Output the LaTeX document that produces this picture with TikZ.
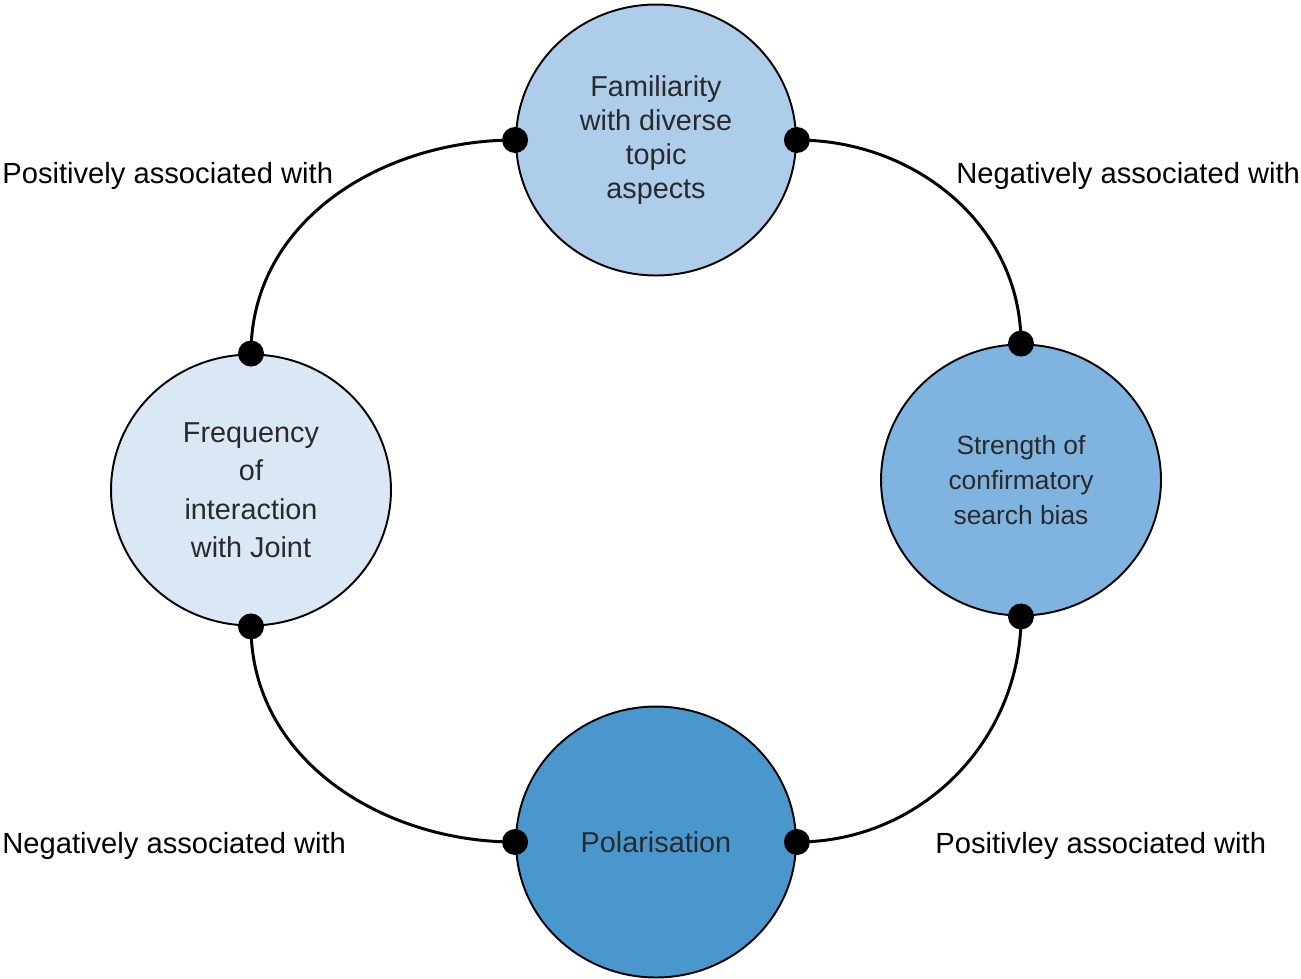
\documentclass[tikz,border=0pt]{standalone}
\usepackage{fontspec}
\setmainfont{Liberation Sans}
\usetikzlibrary{positioning,shapes.geometric}
\definecolor{famfill}{HTML}{ADCDEB}
\definecolor{conffill}{HTML}{7FB4E0}
\definecolor{freqfill}{HTML}{DAE8F6}
\definecolor{polfill}{HTML}{4A97CE}
\definecolor{factortext}{HTML}{2A2A2A}

\begin{document}
\begin{tikzpicture}[x=0.02cm, y=-0.02cm,
  factor/.style={draw, ellipse, line width=1.1pt, minimum width=5.6cm,
    minimum height=5.42cm, inner sep=0pt, align=center, text=factortext},
  dot/.style={circle, fill=black, minimum size=0.52cm, inner sep=0pt},
  link/.style={line width=1.7pt},
  assoc/.style={anchor=base west, inner sep=0pt, font=\fontsize{16.6}{19}\selectfont}
]
\useasboundingbox (0,0) rectangle (1301,978);
% Factors
\node[factor, fill=famfill, font=\fontsize{16.4}{19.3}\selectfont] (fam) at (656,140)
  {Familiarity\\with diverse\\topic\\aspects};
\node[factor, fill=conffill, font=\fontsize{15}{19.9}\selectfont] (conf) at (1021,480)
  {Strength of\\confirmatory\\search bias};
\node[factor, fill=freqfill, font=\fontsize{16.4}{21.9}\selectfont] (freq) at (251,490)
  {Frequency\\of\\interaction\\with Joint};
\node[factor, fill=polfill, font=\fontsize{16.4}{19.3}\selectfont] (pol) at (656,842)
  {Polarisation};
% Associations
\draw[link] (fam.west) to[out=180, in=90] (freq.north);
\draw[link] (fam.east) to[out=0, in=90] (conf.north);
\draw[link] (conf.south) to[out=-90, in=0] (pol.east);
\draw[link] (freq.south) to[out=-90, in=180] (pol.west);
\foreach \a in {fam.west, fam.east, conf.north, conf.south,
                pol.west, pol.east, freq.north, freq.south}
  \node[dot] at (\a) {};
% Labels
\node[assoc] (posTL) at (2,183)   {Positively associated with};
\node[assoc] (negTR) at (956,183) {Negatively associated with};
\node[assoc] (negBL) at (2,853)   {Negatively associated with};
\node[assoc] (posBR) at (935,853) {Positivley associated with};
\end{tikzpicture}
\end{document}
